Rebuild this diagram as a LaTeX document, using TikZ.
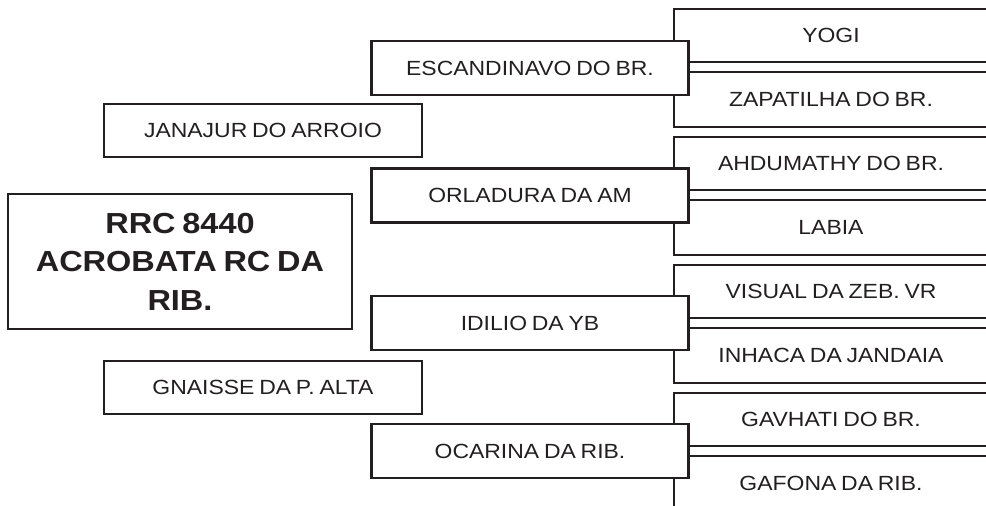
\documentclass[tikz,border=0pt]{standalone}
\usepackage{fontspec}
\setmainfont{Liberation Sans}[FakeStretch=1.12, WordSpace=0.75]
\usepackage{xcolor}
\definecolor{inkcolor}{HTML}{231F20}
\usepackage{tikz}
\usetikzlibrary{positioning}

\tikzset{
  namebox/.style={draw=inkcolor, line width=2.2pt, fill=white, text=inkcolor,
    font=\fontsize{20.5}{24}\selectfont, inner sep=0pt, outer sep=0pt},
  leftbox/.style={namebox, minimum width=318pt, minimum height=53pt},
  midbox/.style={namebox, minimum width=317pt, minimum height=54pt},
  upbox/.style={namebox, anchor=north west, minimum width=314pt, minimum height=53pt},
  downbox/.style={namebox, anchor=north west, minimum width=314pt, minimum height=55pt},
  mainbox/.style={namebox, minimum width=344pt, minimum height=135pt, align=center,
    font=\fontsize{29}{38.5}\selectfont\bfseries}
}

\begin{document}
\begin{tikzpicture}[x=1pt, y=-1pt]
  \clip (0,0) rectangle (986,506);

  % right pairs
  \node[upbox] (yogi) at (674,9) {YOGI};
  \node[downbox] (zapatilha) at (674,72) {ZAPATILHA DO BR.};
  \node[upbox] (ahdumathy) at (674,137) {AHDUMATHY DO BR.};
  \node[downbox] (labia) at (674,200) {LABIA};
  \node[upbox] (visual) at (674,265) {VISUAL DA ZEB. VR};
  \node[downbox] (inhaca) at (674,328) {INHACA DA JANDAIA};
  \node[upbox] (gavhati) at (674,393) {GAVHATI DO BR.};
  \node[downbox] (gafona) at (674,456) {GAFONA DA RIB.};

  % middle column
  \node[midbox] (escandinavo) at (530,68) {ESCANDINAVO DO BR.};
  \node[midbox] (orladura) at (530,195.5) {ORLADURA DA AM};
  \node[midbox] (idilio) at (530,323) {IDILIO DA YB};
  \node[midbox] (ocarina) at (530,451) {OCARINA DA RIB.};

  % left column
  \node[leftbox] (janajur) at (263,130.5) {JANAJUR DO ARROIO};
  \node[leftbox] (gnaisse) at (263,387.5) {GNAISSE DA P. ALTA};
  \node[mainbox] (acrobata) at (180,261.5) {RRC 8440\\ACROBATA RC DA\\RIB.};
\end{tikzpicture}
\end{document}
